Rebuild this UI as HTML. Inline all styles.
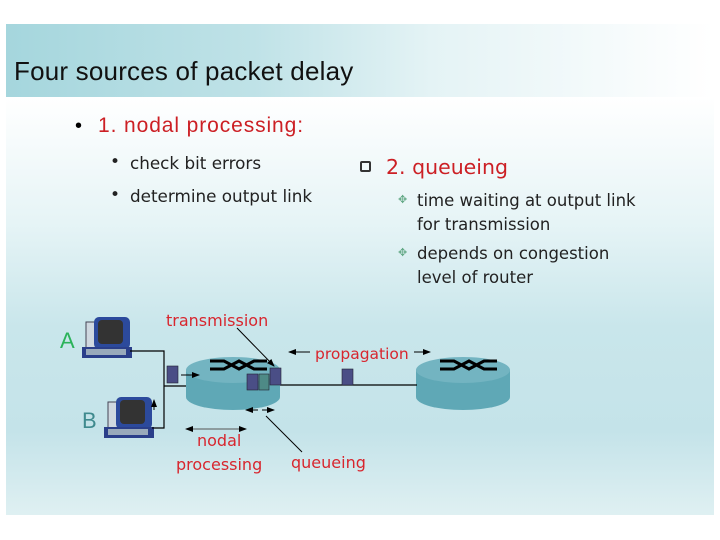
<!DOCTYPE html>
<html><head><style>
body{margin:0;width:720px;height:540px;background:#fff;position:relative;overflow:hidden;font-family:"Liberation Sans",sans-serif}
.hdr{position:absolute;left:6px;top:24px;width:708px;height:73px;background:linear-gradient(90deg,#a5d6dd 0%,#bfe2e7 35%,#e4f3f5 60%,#fff 100%)}
.body{position:absolute;left:6px;top:97px;width:708px;height:418px;background:linear-gradient(180deg,#fff 0%,#e6f4f6 30%,#c9e6eb 55%,#c4e3e9 80%,#dff0f2 100%)}
.t{position:absolute;white-space:nowrap}
.h{left:14px;top:56px;font-size:26px;color:#111;letter-spacing:0.2px}
.red{color:#cc1f24}
.g{color:#222;font-family:"DejaVu Sans",sans-serif}
</style></head><body>
<div class="hdr"></div><div class="body"></div>
<div class="t h">Four sources of packet delay</div>
<div class="t" style="left:75px;top:115px;font-size:20px">•</div>
<div class="t red" style="left:98px;top:114px;font-size:21px;letter-spacing:0.9px">1. nodal processing:</div>
<div class="t g" style="left:110px;top:152px;font-size:17px">•</div>
<div class="t g" style="left:130px;top:153px;font-size:16.8px">check bit errors</div>
<div class="t g" style="left:110px;top:185px;font-size:17px">•</div>
<div class="t g" style="left:130px;top:186px;font-size:16.8px">determine output link</div>
<div class="t" style="left:360px;top:161px;width:11px;height:11px;border:2px solid #333;box-sizing:border-box;border-radius:2px"></div>
<div class="t red" style="left:386px;top:155px;font-size:20.5px;font-family:'DejaVu Sans',sans-serif">2. queueing</div>
<div class="t" style="left:398px;top:193px;font-size:11px;color:#6a8">✥</div>
<div class="t g" style="left:417px;top:189px;font-size:16.5px;line-height:24px">time waiting at output link<br>for transmission</div>
<div class="t" style="left:398px;top:246px;font-size:11px;color:#6a8">✥</div>
<div class="t g" style="left:417px;top:242px;font-size:16.5px;line-height:24px">depends on congestion<br>level of router</div>
<svg width="720" height="540" style="position:absolute;left:0;top:0">
<defs><marker id="a" markerWidth="8" markerHeight="6" refX="7" refY="3" orient="auto"><path d="M0,0L8,3L0,6z" fill="#000"/></marker></defs>
<g id="pc">
<rect x="86" y="322" width="10" height="28" fill="#cfd8e0" stroke="#445" stroke-width="1"/>
<rect x="94" y="317" width="36" height="32" rx="5" fill="#2c4a9c"/>
<rect x="98" y="320" width="25" height="24" rx="4" fill="#333"/>
<rect x="82" y="347" width="50" height="11" fill="#2a3f8a"/>
<rect x="86" y="349" width="40" height="6" fill="#9ab"/>
</g>
<use href="#pc" x="22" y="80"/>
<text x="60" y="348" font-size="22" fill="#2bb35a" font-family="Liberation Sans">A</text>
<text x="82" y="428" font-size="22" fill="#3f8a8e" font-family="Liberation Sans">B</text>
<path d="M130,351H164V428H152M164,386H186" fill="none" stroke="#000" stroke-width="1.2"/>
<line x1="154" y1="410" x2="154" y2="400" stroke="#000" marker-end="url(#a)"/>
<g id="r">
<rect x="186" y="370" width="94" height="27" fill="#5fa8b6"/>
<ellipse cx="233" cy="397" rx="47" ry="13" fill="#5fa8b6"/>
<ellipse cx="233" cy="370" rx="47" ry="13" fill="#73b4c1"/>
<path d="M210,361h14l15,8l15,-8h13M210,369h14l15,-8l15,8h13" fill="none" stroke="#000" stroke-width="3"/>
</g>
<use href="#r" x="230" y="0"/>
<line x1="280" y1="385" x2="417" y2="385" stroke="#000" stroke-width="1.2"/>
<rect x="167" y="366" width="11" height="17" fill="#4a4e86" stroke="#223" stroke-width=".6"/>
<line x1="181" y1="375" x2="199" y2="375" stroke="#000" marker-end="url(#a)"/>
<rect x="247" y="374" width="11" height="16" fill="#4a4e86" stroke="#223" stroke-width=".6"/>
<rect x="259" y="374" width="10" height="16" fill="#4e8a86" stroke="#223" stroke-width=".6"/>
<rect x="270" y="368" width="11" height="17" fill="#4a4e86" stroke="#223" stroke-width=".6"/>
<rect x="342" y="369" width="11" height="16" fill="#4a4e86" stroke="#223" stroke-width=".6"/>
<line x1="237" y1="328" x2="274" y2="366" stroke="#000" marker-end="url(#a)"/>
<line x1="310" y1="352" x2="289" y2="352" stroke="#000" marker-end="url(#a)"/>
<line x1="414" y1="352" x2="430" y2="352" stroke="#000" marker-end="url(#a)"/>
<line x1="258" y1="410" x2="246" y2="410" stroke="#000" marker-end="url(#a)"/>
<line x1="262" y1="410" x2="274" y2="410" stroke="#000" marker-end="url(#a)"/>
<line x1="266" y1="416" x2="302" y2="452" stroke="#000"/>
<line x1="215" y1="429" x2="186" y2="429" stroke="#555" marker-end="url(#a)"/>
<line x1="215" y1="429" x2="246" y2="429" stroke="#555" marker-end="url(#a)"/>
<g font-family="DejaVu Sans" font-size="16" fill="#d8262e">
<text x="166" y="326">transmission</text>
<text x="315" y="359" font-size="15.5">propagation</text>
<text x="197" y="446">nodal</text>
<text x="176" y="470">processing</text>
<text x="291" y="468">queueing</text>
</g>
</svg>
</body></html>
